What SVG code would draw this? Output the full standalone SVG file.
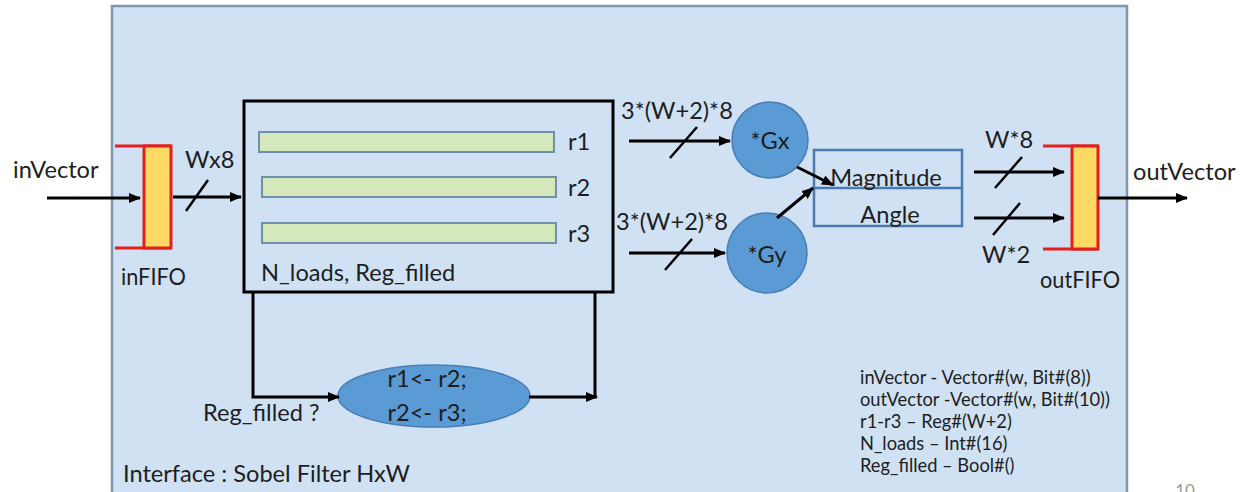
<svg xmlns="http://www.w3.org/2000/svg" width="1244" height="492" viewBox="0 0 1244 492">
  <style>
    text { font-family: Lato, "Open Sans", "Liberation Sans", sans-serif; fill: #1e1e1e; }
    .t22 { font-size: 23.6px; }
    .t20 { font-size: 23.6px; }
    .t17 { font-size: 18.3px; }
    .mid { text-anchor: middle; }
    .wire { stroke: #000; stroke-width: 3; fill: none; }
    .slash { stroke: #000; stroke-width: 2.5; }
    .fifo { fill: #ffd966; stroke: #e3201b; stroke-width: 3; }
    .bracket { stroke: #e3201b; stroke-width: 3; fill: none; }
    .reg { fill: #d5e8bc; stroke: #6f8faa; stroke-width: 2; }
    .op { fill: #5b9bd5; stroke: #4a7db5; stroke-width: 1.5; }
  </style>
  <defs>
    <marker id="arrow" viewBox="0 0 12 10" refX="11" refY="5" markerWidth="12" markerHeight="10" markerUnits="userSpaceOnUse" orient="auto">
      <path d="M0,0 L12,5 L0,10 Z" fill="#000"/>
    </marker>
  </defs>

  <rect width="1244" height="492" fill="#ffffff"/>

  <!-- module boundary -->
  <g id="interface">
    <rect x="112" y="6" width="1015" height="500" fill="#cfe1f2" stroke="#7f96ad" stroke-width="2.5"/>
    <text class="t22" x="123" y="482">Interface : Sobel Filter HxW</text>
  </g>

  <!-- input FIFO -->
  <g id="inFIFO">
    <path class="bracket" d="M115,146 H171 M115,248 H171"/>
    <rect class="fifo" x="144" y="146" width="27" height="102"/>
    <text class="t22" x="121" y="285" textLength="65" lengthAdjust="spacingAndGlyphs">inFIFO</text>
  </g>

  <!-- line buffer with three row registers -->
  <g id="lineBuffer">
    <rect x="244" y="101" width="369" height="191" fill="none" stroke="#000" stroke-width="3"/>
    <rect class="reg" x="259" y="132" width="295" height="20"/>
    <rect class="reg" x="262" y="177" width="294" height="20"/>
    <rect class="reg" x="262" y="223" width="294" height="20"/>
    <text class="t22" x="568" y="150">r1</text>
    <text class="t22" x="568" y="196">r2</text>
    <text class="t22" x="568" y="242">r3</text>
    <text class="t22" x="261" y="281">N_loads, Reg_filled</text>
  </g>

  <!-- Sobel kernels -->
  <g id="gx">
    <circle class="op" cx="770" cy="140" r="38"/>
    <text class="t22 mid" x="770" y="149">*Gx</text>
  </g>
  <g id="gy">
    <circle class="op" cx="767" cy="253" r="40"/>
    <text class="t22 mid" x="767" y="263">*Gy</text>
  </g>

  <!-- magnitude / angle stage -->
  <g id="magAngle">
    <rect x="814" y="150" width="148" height="76" fill="none" stroke="#4a7ab0" stroke-width="2.5"/>
    <line x1="814" y1="188" x2="962" y2="188" stroke="#4a7ab0" stroke-width="2.5"/>
    <text class="t22 mid" x="886" y="186">Magnitude</text>
    <text class="t22 mid" x="890" y="223">Angle</text>
  </g>

  <!-- output FIFO -->
  <g id="outFIFO">
    <path class="bracket" d="M1043,146 H1098 M1043,249 H1098"/>
    <rect class="fifo" x="1072" y="146" width="26" height="103"/>
    <text class="t22" x="1040" y="288" textLength="80" lengthAdjust="spacingAndGlyphs">outFIFO</text>
  </g>

  <!-- shift step -->
  <g id="shift">
    <ellipse class="op" cx="434" cy="396" rx="96" ry="31"/>
    <text class="t20 mid" x="427" y="387">r1&lt;- r2;</text>
    <text class="t20 mid" x="427" y="421">r2&lt;- r3;</text>
  </g>

  <!-- connectors -->
  <g id="connectors">
    <line class="wire" x1="47" y1="198" x2="140" y2="198" marker-end="url(#arrow)"/>
    <line class="wire" x1="173" y1="197" x2="241" y2="197" marker-end="url(#arrow)"/>
    <line class="slash" x1="186" y1="211" x2="208" y2="180"/>

    <line class="wire" x1="629" y1="141" x2="730" y2="141" marker-end="url(#arrow)"/>
    <line class="slash" x1="670" y1="158" x2="697" y2="127"/>
    <line class="wire" x1="629" y1="253" x2="725" y2="253" marker-end="url(#arrow)"/>
    <line class="slash" x1="665" y1="270" x2="692" y2="239"/>

    <line class="wire" x1="797" y1="167" x2="833" y2="185" marker-end="url(#arrow)"/>
    <line class="wire" x1="777" y1="218" x2="813" y2="188" marker-end="url(#arrow)"/>

    <line class="wire" x1="974" y1="172" x2="1064" y2="172" marker-end="url(#arrow)"/>
    <line class="slash" x1="995" y1="188" x2="1022" y2="157"/>
    <line class="wire" x1="974" y1="218" x2="1064" y2="218" marker-end="url(#arrow)"/>
    <line class="slash" x1="993" y1="235" x2="1020" y2="203"/>

    <line class="wire" x1="1098" y1="198" x2="1187" y2="198" marker-end="url(#arrow)"/>

    <path class="wire" d="M253,292 V397 H339" marker-end="url(#arrow)"/>
    <line class="wire" x1="595" y1="292" x2="595" y2="398"/>
    <line class="wire" x1="529" y1="397" x2="597" y2="397" marker-end="url(#arrow)"/>
  </g>

  <!-- port and width labels -->
  <g id="labels">
    <text class="t22" x="13" y="178">inVector</text>
    <text class="t22" x="185" y="168">Wx8</text>
    <text class="t22" x="621" y="119">3*(W+2)*8</text>
    <text class="t22" x="616" y="230">3*(W+2)*8</text>
    <text class="t22" x="985" y="148">W*8</text>
    <text class="t22" x="982" y="263">W*2</text>
    <text class="t22" x="1133" y="180">outVector</text>
    <text class="t20" x="203" y="421">Reg_filled ?</text>
  </g>

  <!-- type legend -->
  <g id="legend">
    <text class="t17" x="860" y="384">inVector - Vector#(w, Bit#(8))</text>
    <text class="t17" x="860" y="406">outVector -Vector#(w, Bit#(10))</text>
    <text class="t17" x="860" y="428">r1-r3 – Reg#(W+2)</text>
    <text class="t17" x="860" y="450">N_loads – Int#(16)</text>
    <text class="t17" x="860" y="472">Reg_filled – Bool#()</text>
  </g>

  <text x="1185" y="497" style="font-size:17px; fill:#9a9a9a" class="mid">10</text>
</svg>
